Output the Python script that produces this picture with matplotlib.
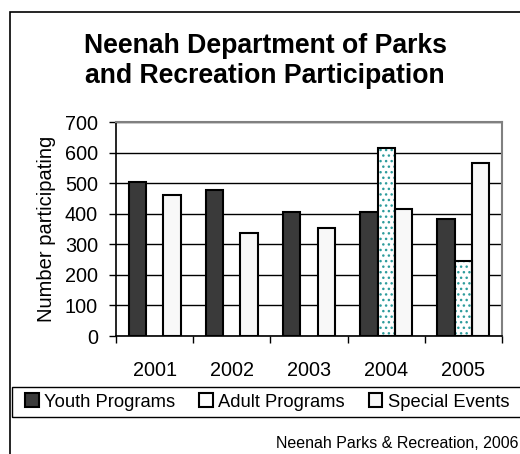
"""
Neenah Parks & Recreation — participação por programa (2001-2005).
Salva out.png.
"""
import numpy as np
import matplotlib
matplotlib.use("Agg")
import matplotlib.pyplot as plt
import matplotlib.patches as mpatches

# ─── Dados ────────────────────────────────────────────────────────────────────
YEARS   = ["2001", "2002", "2003", "2004", "2005"]
YOUTH   = [505, 478, 405, 404, 382]
ADULT   = [np.nan, np.nan, np.nan, 614, 245]
SPECIAL = [462, 337, 354, 414, 566]

# ─── Paleta ───────────────────────────────────────────────────────────────────
DARK  = "#3a3a3a"
TEAL  = "#2e9c9c"
LIGHT = "#f8f8f8"
GRAYB = "#808080"

plt.rcParams["font.family"] = ["Liberation Sans", "DejaVu Sans"]
plt.rcParams["hatch.linewidth"] = 1.0

fig = plt.figure(figsize=(5.2, 4.54), dpi=100, facecolor="white")
W, H = 520, 454

# moldura externa
fig.patches.append(mpatches.Rectangle((10 / W, -0.1), 1.2, 1.1 - 12 / H,
                                      transform=fig.transFigure, fill=False,
                                      edgecolor="black", linewidth=1.2))
# moldura da legenda
fig.patches.append(mpatches.Rectangle((12 / W, 1 - 417 / H), 1.2, 30 / H,
                                      transform=fig.transFigure, fill=False,
                                      edgecolor="black", linewidth=1.0))

ax = fig.add_axes([116 / W, 1 - 336 / H, 386 / W, 214 / H])

x = np.arange(len(YEARS))
bw = 0.225

ax.bar(x - bw, YOUTH, bw, color=DARK, edgecolor="black", linewidth=1.5, zorder=3)
ax.bar(x, ADULT, bw, color="white", edgecolor=TEAL, hatch="...", linewidth=0, zorder=3)
ax.bar(x, ADULT, bw, fill=False, edgecolor="black", linewidth=1.5, zorder=4)
ax.bar(x + bw, SPECIAL, bw, color=LIGHT, edgecolor="black", linewidth=1.5, zorder=3)

ax.set_xlim(-0.5, len(YEARS) - 0.5)
ax.set_ylim(0, 700)
ax.set_yticks(range(0, 701, 100))
ax.set_xticks(x)
ax.set_xticklabels(YEARS)
ax.set_xticks(np.arange(-0.5, len(YEARS), 1.0), minor=True)
ax.tick_params(axis="x", which="major", length=0, pad=18, labelsize=14.3)
ax.tick_params(axis="x", which="minor", length=5, width=1, color="black")
ax.tick_params(axis="y", length=5, width=1, pad=8, labelsize=14.3)

ax.grid(axis="y", color="black", linewidth=1, zorder=0)
ax.set_axisbelow(True)
for s in ["left", "bottom"]:
    ax.spines[s].set_color("black")
    ax.spines[s].set_linewidth(1.2)
for s in ["top", "right"]:
    ax.spines[s].set_color(GRAYB)
    ax.spines[s].set_linewidth(1.5)

ax.set_ylabel("Number participating", fontsize=14.5, labelpad=6)

fig.text(265 / W, 1 - 61 / H, "Neenah Department of Parks\nand Recreation Participation",
         ha="center", va="center", fontsize=19.2, fontweight="bold", linespacing=1.2)

# legenda
h_youth = mpatches.Patch(facecolor=DARK, edgecolor="black", linewidth=1.5)
h_adult = mpatches.Patch(facecolor="white", edgecolor="black", linewidth=1.5)
h_spec  = mpatches.Patch(facecolor=LIGHT, edgecolor="black", linewidth=1.5)
fig.legend([h_youth, h_adult, h_spec], ["Youth Programs", "Adult Programs", "Special Events"],
           loc="center left", bbox_to_anchor=(25 / W, 1 - 402 / H),
           ncol=3, fontsize=13.2, frameon=False,
           handlelength=0.74, handleheight=0.74, handletextpad=0.3,
           columnspacing=1.3, borderpad=0, borderaxespad=0)

fig.text(518 / W, 1 - 444 / H, "Neenah Parks & Recreation, 2006",
         ha="right", va="center", fontsize=11.5)

fig.savefig("out.png", dpi=100, facecolor="white")
